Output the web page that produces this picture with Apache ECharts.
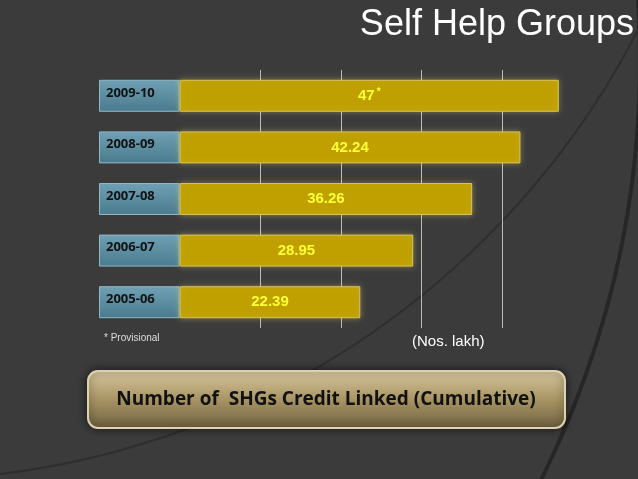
<!DOCTYPE html>
<html><head><meta charset="utf-8">
<script src="https://cdn.jsdelivr.net/npm/echarts@6/dist/echarts.min.js"></script>
<style>html,body{margin:0;padding:0;background:#3b3b3b}#c{width:638px;height:479px}</style>
</head><body><div id="c"></div>
<script>
const categories = ['2005-06','2006-07','2007-08','2008-09','2009-10'];
const values = [22.39, 28.95, 36.26, 42.24, 47];
const valueLabels = ['22.39','28.95','36.26','42.24','47'];
const gridLines = [10,20,30,40];

const chart = echarts.init(document.getElementById('c'));
chart.setOption({
  backgroundColor: '#3b3b3b',
  animation: false,
  grid: {left: 99, right: 55, top: 70, bottom: 151},
  xAxis: {type:'value', min:-10, max:50, interval:10, show:false},
  yAxis: {type:'category', data:categories, show:false},
  graphic: [
    {type:'circle', shape:{cx:-300, cy:60, r:940}, style:{fill:'none', stroke:'#262626', lineWidth:4}, silent:true},
    {type:'circle', shape:{cx:-100, cy:-350, r:830}, style:{fill:'none', stroke:'#2e2e2e', lineWidth:2}, silent:true},
    {type:'text', right:4, top:7, style:{text:'Self Help Groups', fill:'#fff', font:'36px "Liberation Sans", Arial, sans-serif'}},
    {type:'text', left:104, top:333, style:{text:'* Provisional', fill:'#ddd', font:'10px "Liberation Sans", sans-serif'}},
    {type:'text', left:412, top:334, style:{text:'(Nos. lakh)', fill:'#fff', font:'15px "Liberation Sans", sans-serif'}},
    {type:'rect', shape:{x:88, y:371, width:477, height:57, r:10},
      style:{fill:{type:'linear',x:0,y:0,x2:0,y2:1,colorStops:[{offset:0,color:'#d8c9a0'},{offset:0.5,color:'#a89464'},{offset:1,color:'#6e6040'}]},
      stroke:'#ddd2b0', lineWidth:2, shadowBlur:8, shadowColor:'rgba(0,0,0,0.6)'}},
    {type:'text', x:326, y:400, style:{text:'Number of  SHGs Credit Linked (Cumulative)', fill:'#111', align:'center', verticalAlign:'middle', font:'bold 19px "Open Sans", Calibri, sans-serif'}}
  ],
  series: [
    {type:'bar', stack:'a', barWidth:32, data:categories.map(()=>-10),
      itemStyle:{color:{type:'linear',x:0,y:0,x2:0,y2:1,colorStops:[{offset:0,color:'#6fa0b4'},{offset:1,color:'#4a7a8e'}]}, borderColor:'#8fb8c6', borderWidth:1},
      label:{show:true, position:'insideLeft', offset:[2,-3], color:'#111', fontWeight:'bold', fontSize:13, fontFamily:'"Open Sans", sans-serif',
        formatter: p => categories[p.dataIndex]}},
    {type:'bar', stack:'a', barWidth:32, data:values,
      itemStyle:{color:'#bfa000', borderColor:'#d9c45a', borderWidth:1, shadowBlur:6, shadowColor:'rgba(255,230,120,0.35)'},
      label:{show:true, position:'inside', color:'#ffff33', fontWeight:'bold', fontSize:15, fontFamily:'"Liberation Sans", sans-serif',
        formatter: p => p.dataIndex===4 ? valueLabels[p.dataIndex]+'{s|*}' : valueLabels[p.dataIndex],
        rich:{s:{fontSize:10, color:'#ffff33', verticalAlign:'top', padding:[0,0,8,2]}}},
      markLine:{silent:true, symbol:'none', label:{show:false}, lineStyle:{color:'#bbb', width:1, type:'solid'},
        data: gridLines.map(v=>({xAxis:v})), z:0}, z:3}
  ]
});
</script></body></html>
